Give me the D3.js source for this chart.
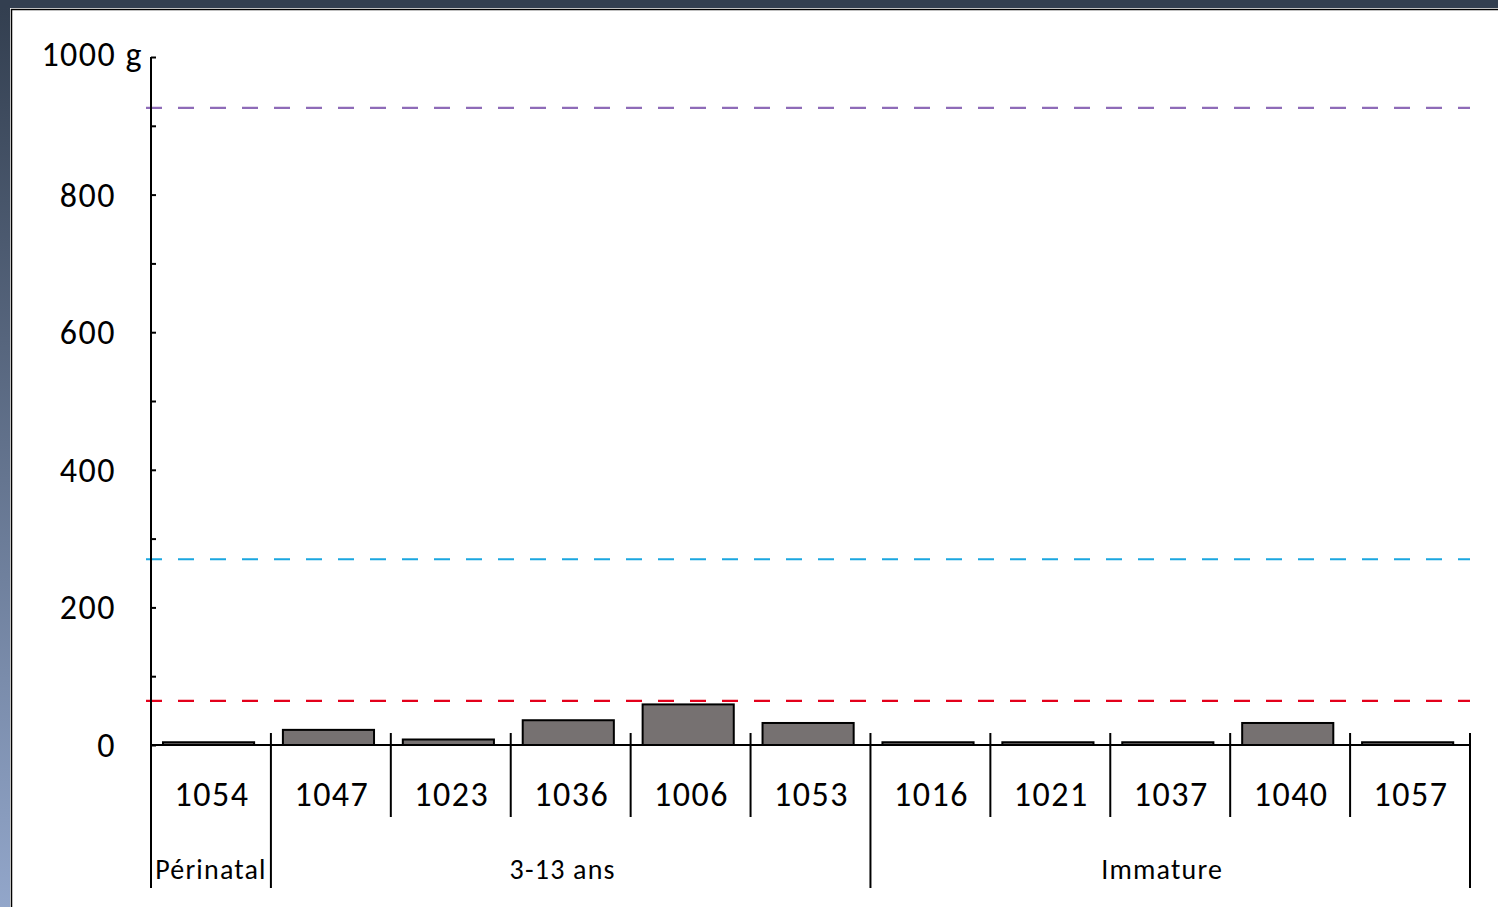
<!DOCTYPE html>
<html><head><meta charset="utf-8">
<script src="https://cdn.jsdelivr.net/npm/d3@7"></script>
<style>html,body{margin:0;padding:0;background:#333f50;overflow:hidden}</style>
</head><body>
<script>
const categories = ["1054","1047","1023","1036","1006","1053","1016","1021","1037","1040","1057"];
const values = [4, 22, 8, 36, 59, 32, 4, 4, 4, 32, 4];
const groups = ["Périnatal","3-13 ans","Immature"];
const groupMembers = [["1054"],["1047","1023","1036","1006","1053"],["1016","1021","1037","1040","1057"]];
const refLines = [926, 270, 64];
const refColors = ["#8e6bb8", "#1aa6e0", "#e3001b"];
const yTickLabels = [0, 200, 400, 600, 800];

const W = 1498, H = 907;
const svg = d3.select("body").append("svg").attr("width", W).attr("height", H);
const defs = svg.append("defs");
const grad = defs.append("linearGradient").attr("id","bg").attr("x1",0).attr("y1",0).attr("x2",0).attr("y2",1);
grad.append("stop").attr("offset","0%").attr("stop-color","#333f50");
grad.append("stop").attr("offset","100%").attr("stop-color","#93a7cb");
svg.append("rect").attr("width",W).attr("height",H).attr("fill","#333f50");
svg.append("rect").attr("x",0).attr("y",8).attr("width",12).attr("height",H).attr("fill","url(#bg)");
svg.append("rect").attr("x",10).attr("y",8).attr("width",W).attr("height",H).attr("fill","#fff");
svg.append("rect").attr("x",11.5).attr("y",9.5).attr("width",W).attr("height",H).attr("fill","none").attr("stroke","#000").attr("stroke-width",1.5);

const font = "Calibri, Carlito, Lato, 'Liberation Sans', sans-serif";
const x = d3.scaleBand().domain(categories).range([151,1470]).padding(0);
const y = d3.scaleLinear().domain([0,1000]).range([745,57]);
const bw = x.bandwidth();

// reference dashed lines
refLines.forEach((v,i)=>{
  svg.append("line").attr("x1",146).attr("x2",1470).attr("y1",y(v)).attr("y2",y(v))
    .attr("stroke",refColors[i]).attr("stroke-width",2.2).attr("stroke-dasharray","16,16");
});

// bars
svg.append("g").selectAll("rect").data(categories).join("rect")
  .attr("x",d=>x(d)+bw*0.1).attr("width",bw*0.76)
  .attr("y",(d,i)=>y(values[i])).attr("height",(d,i)=>y(0)-y(values[i]))
  .attr("fill","#767171").attr("stroke","#000").attr("stroke-width",2);

// y axis
const yAxis = d3.axisRight(y).tickValues(d3.range(0,1001,100)).tickSize(5).tickFormat("");
const ya = svg.append("g").attr("transform","translate(151,0)").call(yAxis);
ya.select(".domain").remove();
ya.selectAll("line").attr("stroke","#000").attr("stroke-width",2);
svg.append("line").attr("x1",151).attr("x2",151).attr("y1",y(1000)).attr("y2",888).attr("stroke","#000").attr("stroke-width",2);
svg.append("g").selectAll("text").data(yTickLabels).join("text")
  .attr("x",116).attr("y",d=>y(d)).attr("dy","0.35em").attr("text-anchor","end")
  .attr("font-family",font).attr("font-size",34).attr("letter-spacing",1.5).attr("fill","#000").text(d=>d);
svg.append("text").attr("x",143).attr("y",y(1000)-3).attr("dy","0.35em").attr("text-anchor","end")
  .attr("font-family",font).attr("font-size",34).attr("letter-spacing",1.5).attr("fill","#000").text("1000 g");

// x axis
svg.append("line").attr("x1",151).attr("x2",1470).attr("y1",y(0)).attr("y2",y(0)).attr("stroke","#000").attr("stroke-width",2);
const xa = svg.append("g").attr("transform",`translate(0,${y(0)})`)
  .call(d3.axisBottom(x).tickSize(0).tickPadding(34));
xa.select(".domain").remove();
xa.selectAll("text").attr("font-family",font).attr("font-size",34).attr("letter-spacing",1.5)
  .attr("fill","#000").attr("dy","0.35em").attr("y",49).attr("dx",1);

// category separators
const bounds = categories.map(c=>x(c)).concat([x(categories[categories.length-1])+bw]);
const groupBounds = [x(groupMembers[0][0])];
groupMembers.forEach(g=>{ const last=g[g.length-1]; groupBounds.push(x(last)+bw); });
svg.append("g").selectAll("line").data(bounds.slice(1)).join("line")
  .attr("x1",d=>d).attr("x2",d=>d).attr("y1",733)
  .attr("y2",d=>groupBounds.some(b=>Math.abs(b-d)<0.5)?888:817)
  .attr("stroke","#000").attr("stroke-width",2);

// group labels
svg.append("g").selectAll("text").data(groups).join("text")
  .attr("x",(d,i)=>(groupBounds[i]+groupBounds[i+1])/2 - (i>0?8:0)).attr("y",869).attr("dy","0.35em")
  .attr("text-anchor","middle").attr("font-family",font).attr("font-size",28).attr("letter-spacing",1.2).attr("fill","#000")
  .text(d=>d);
</script>
</body></html>
